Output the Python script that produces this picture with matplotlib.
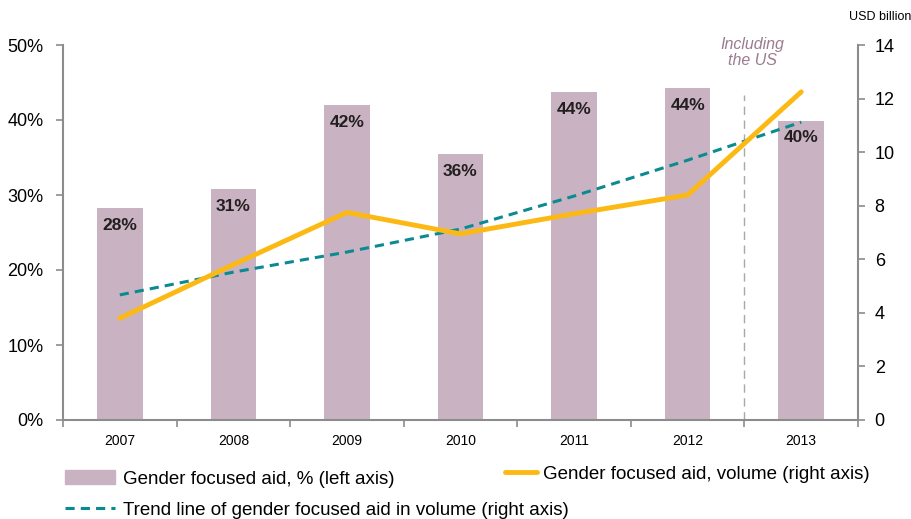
import matplotlib
matplotlib.use('Agg')
import matplotlib.pyplot as plt
from matplotlib.patches import Patch
from matplotlib.lines import Line2D

years = ['2007', '2008', '2009', '2010', '2011', '2012', '2013']
share_pct = [28.3, 30.8, 42.0, 35.5, 43.7, 44.3, 39.9]
share_labels = ['28%', '31%', '42%', '36%', '44%', '44%', '40%']
volume = [3.8, 5.8, 7.75, 6.95, 7.7, 8.4, 12.25]
trend = [4.67, 5.52, 6.27, 7.13, 8.36, 9.7, 11.12]

plt.rcParams['font.family'] = ['Liberation Sans', 'DejaVu Sans']

BAR = '#c9b3c2'
ORANGE = '#fdb913'
TEAL = '#0b8a92'
GREY = '#8c8c8c'


def main():
    fig = plt.figure(figsize=(9.12, 5.19), dpi=100)
    ax = fig.add_axes([63 / 912, 1 - 420 / 519, 795 / 912, 375 / 519])
    x = list(range(len(years)))

    ax.bar(x, share_pct, width=0.4, color=BAR, zorder=1)
    for xi, v, lab in zip(x, share_pct, share_labels):
        ax.text(xi, v - 1.3, lab, ha='center', va='top', fontsize=12.5,
                fontweight='bold', color='#231f20', zorder=2)

    ax.set_xlim(-0.5, len(years) - 0.5)
    ax.set_ylim(0, 50)
    ax.set_yticks([0, 10, 20, 30, 40, 50])
    ax.set_yticklabels(['0%', '10%', '20%', '30%', '40%', '50%'])
    ax.set_xticks(x)
    ax.set_xticklabels(years)
    ax.set_xticks([i + 0.5 for i in range(-1, len(years))], minor=True)
    ax.tick_params(axis='x', which='major', length=0, labelsize=10, pad=10)
    ax.tick_params(axis='x', which='minor', length=5, color=GREY, width=1.2)
    ax.tick_params(axis='y', length=5, color=GREY, width=1.2, labelsize=13, pad=9)
    for s in ['top', 'right']:
        ax.spines[s].set_visible(False)
    for s in ['left', 'bottom']:
        ax.spines[s].set_color(GREY)
        ax.spines[s].set_linewidth(1.5)

    ax.axvline(5.5, ymin=0, ymax=(420 - 95) / 375, color='#a8a8a8',
               linestyle=(0, (6, 4)), linewidth=1.0, zorder=1)
    ax.text(5.57, 51.0, 'Including\nthe US', ha='center', va='top',
            fontsize=11.5, style='italic', color='#9c7b90', linespacing=1.05)

    ax2 = ax.twinx()
    ax2.set_ylim(0, 14)
    ax2.set_yticks(range(0, 15, 2))
    ax2.tick_params(axis='y', length=5, color=GREY, width=1.2, labelsize=13, pad=7)
    for s in ['top', 'left', 'bottom']:
        ax2.spines[s].set_visible(False)
    ax2.spines['right'].set_color(GREY)
    ax2.spines['right'].set_linewidth(1.5)

    ax2.plot(x, trend, color=TEAL, linestyle=(0, (3, 2)), linewidth=2.2, zorder=3)
    ax2.plot(x, volume, color=ORANGE, linewidth=3.5, solid_capstyle='round', zorder=4)

    fig.text(911 / 912, 1 - 17 / 519, 'USD billion', ha='right', va='center',
             fontsize=9)

    h_bar = Patch(color=BAR)
    h_vol = Line2D([], [], color=ORANGE, linewidth=3.5, solid_capstyle='round')
    h_trend = Line2D([], [], color=TEAL, linestyle=(0, (3, 2)), linewidth=2.2)
    common = dict(frameon=False, fontsize=13.5, handlelength=2.67, handletextpad=0.42,
                  borderaxespad=0, borderpad=0, loc='center left')
    fig.legend([h_bar], ['Gender focused aid, % (left axis)'],
               bbox_to_anchor=(65 / 912, 1 - 479 / 519), **common)
    fig.legend([h_vol], ['Gender focused aid, volume (right axis)'],
               bbox_to_anchor=(505 / 912, 1 - 474 / 519),
               **{**common, 'handlelength': 1.7, 'handletextpad': 0.32})
    fig.legend([h_trend], ['Trend line of gender focused aid in volume (right axis)'],
               bbox_to_anchor=(65 / 912, 1 - 510 / 519), **common)

    fig.savefig('out.png', dpi=100)


if __name__ == '__main__':
    main()
